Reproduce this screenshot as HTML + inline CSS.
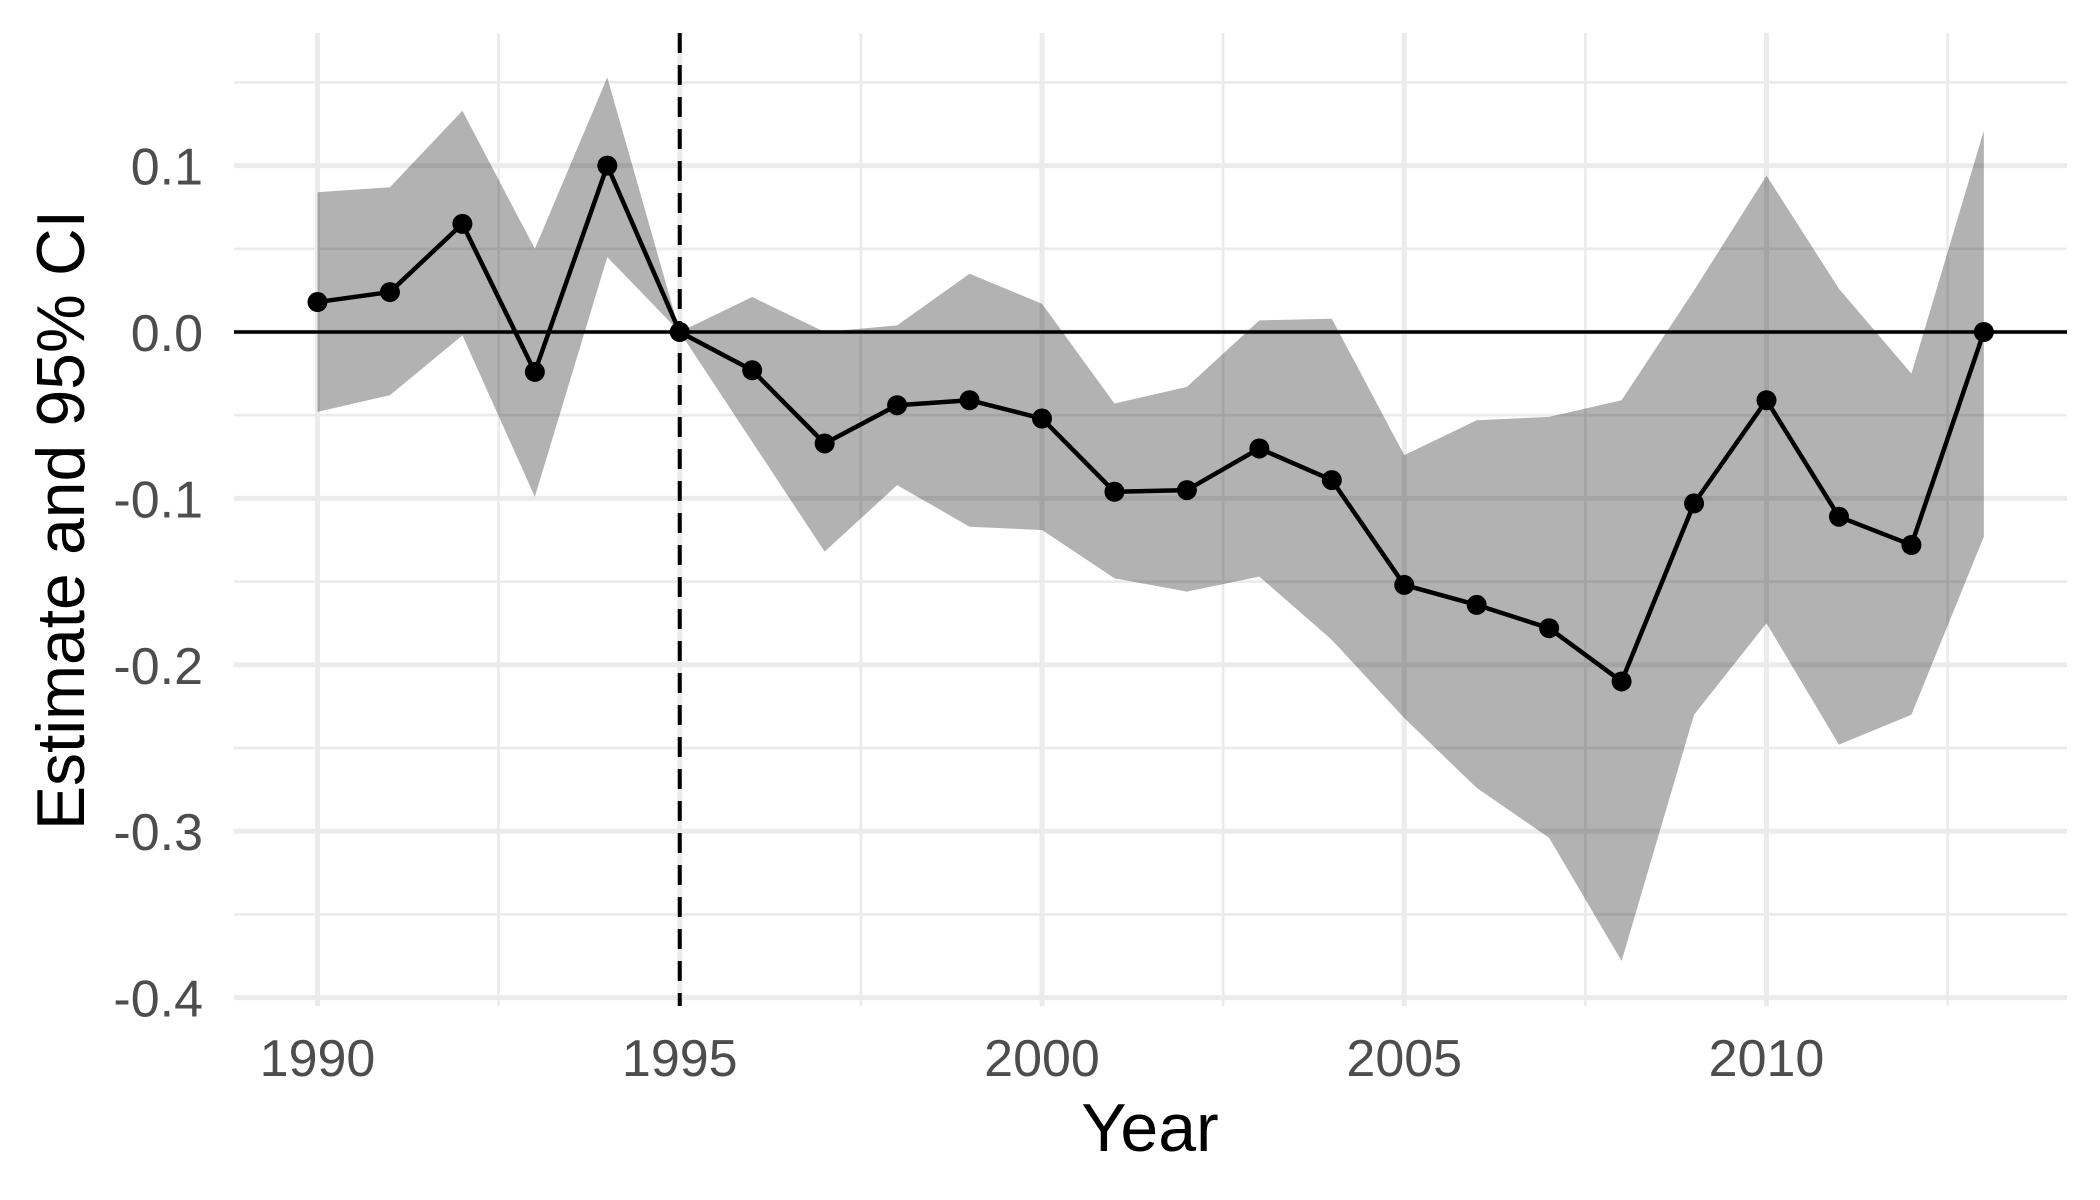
<!DOCTYPE html>
<html><head><meta charset="utf-8"><style>
html,body{margin:0;padding:0;background:#fff;}
svg{display:block;font-family:"Liberation Sans",sans-serif;}
</style></head><body>
<svg id="chart" width="2100" height="1200" viewBox="0 0 2100 1200" xmlns="http://www.w3.org/2000/svg">
<g id="grid"></g>
<g id="ribbon"></g>
<g id="refs"></g>
<g id="series"></g>
<g id="axes"></g>
<text x="1150" y="1151" font-size="68" text-anchor="middle" fill="#000">Year</text>
<text transform="translate(84,520) rotate(-90)" font-size="68" text-anchor="middle" fill="#000" textLength="620" lengthAdjust="spacingAndGlyphs">Estimate and 95% CI</text>
</svg>
<script>
const years = [1990,1991,1992,1993,1994,1995,1996,1997,1998,1999,2000,2001,2002,2003,2004,2005,2006,2007,2008,2009,2010,2011,2012,2013];
const estimates = [0.018,0.024,0.065,-0.024,0.100,0.000,-0.023,-0.067,-0.044,-0.041,-0.052,-0.096,-0.095,-0.070,-0.089,-0.152,-0.164,-0.178,-0.210,-0.103,-0.041,-0.111,-0.128,0.000];
const upper = [0.084,0.087,0.133,0.050,0.153,0.000,0.021,0.000,0.004,0.035,0.017,-0.043,-0.033,0.007,0.008,-0.074,-0.053,-0.051,-0.041,0.025,0.094,0.026,-0.025,0.121];
const lower = [-0.048,-0.038,-0.002,-0.099,0.045,0.000,-0.066,-0.132,-0.092,-0.117,-0.119,-0.148,-0.156,-0.147,-0.185,-0.232,-0.274,-0.304,-0.378,-0.230,-0.175,-0.248,-0.230,-0.123];
const xTicks = [1990,1995,2000,2005,2010];
const xMinor = [1992.5,1997.5,2002.5,2007.5,2012.5];
const yTicks = [0.1,0.0,-0.1,-0.2,-0.3,-0.4];
const yTickLabels = ["0.1","0.0","-0.1","-0.2","-0.3","-0.4"];
const yMinor = [0.15,0.05,-0.05,-0.15,-0.25,-0.35];
const eventYear = 1995;

const NS="http://www.w3.org/2000/svg";
const X0=234, X1=2067;
const xs = v => 317.5 + (v-1990)*72.45;
const ys = v => 332 - v*1664;
function mk(tag, attrs, parent){const e=document.createElementNS(NS,tag);for(const k in attrs)e.setAttribute(k,attrs[k]);parent.appendChild(e);return e;}
const grid=document.getElementById('grid'), rib=document.getElementById('ribbon'), refs=document.getElementById('refs'), ser=document.getElementById('series'), axes=document.getElementById('axes');
const panelTop=33, panelBot=1006;
yMinor.forEach(v=>{const l=mk('line',{x1:X0,x2:X1,y1:ys(v),y2:ys(v),stroke:'#ebebeb','stroke-width':2.7},grid);

});
xMinor.forEach(v=>{const l=mk('line',{x1:xs(v),x2:xs(v),y1:panelTop,y2:panelBot,stroke:'#ebebeb','stroke-width':2.7},grid);

});
yTicks.forEach(v=>{const l=mk('line',{x1:X0,x2:X1,y1:ys(v),y2:ys(v),stroke:'#ebebeb','stroke-width':5},grid);

});
xTicks.forEach(v=>{const l=mk('line',{x1:xs(v),x2:xs(v),y1:panelTop,y2:panelBot,stroke:'#ebebeb','stroke-width':5},grid);

});
let pts=years.map((y,i)=>xs(y)+','+ys(upper[i]));
for(let i=years.length-1;i>=0;i--)pts.push(xs(years[i])+','+ys(lower[i]));
const poly=mk('polygon',{points:pts.join(' '),fill:'#000','fill-opacity':0.3},rib);


const hl=mk('line',{x1:X0,x2:X1,y1:ys(0),y2:ys(0),stroke:'#000','stroke-width':3.5},refs);


const vl=mk('line',{x1:xs(eventYear),x2:xs(eventYear),y1:panelTop,y2:panelBot,stroke:'#000','stroke-width':4,'stroke-dasharray':'20,12'},refs);


const pl=mk('polyline',{points:years.map((y,i)=>xs(y)+','+ys(estimates[i])).join(' '),fill:'none',stroke:'#000','stroke-width':4.5,'stroke-linejoin':'round'},ser);


years.forEach((y,i)=>{const c=mk('circle',{cx:xs(y),cy:ys(estimates[i]),r:10,fill:'#000'},ser);

});
yTicks.forEach((v,i)=>{const t=mk('text',{x:203,y:ys(v)+19,'font-size':52,'text-anchor':'end',fill:'#4d4d4d'},axes);t.textContent=yTickLabels[i];

});
xTicks.forEach(v=>{const t=mk('text',{x:xs(v),y:1076,'font-size':52,'text-anchor':'middle',fill:'#4d4d4d'},axes);t.textContent=String(v);

});
</script>
</body></html>
